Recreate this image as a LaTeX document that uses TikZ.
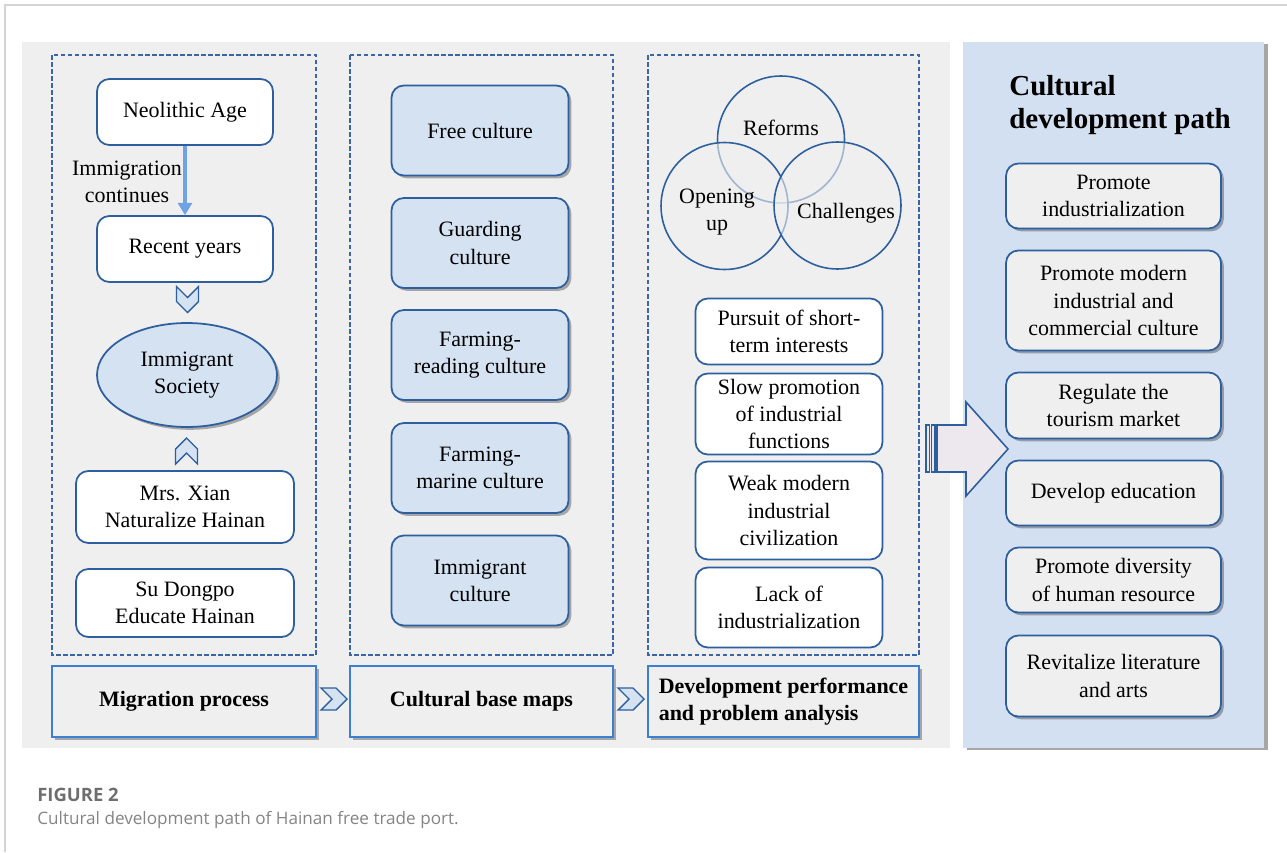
\documentclass[tikz,border=0pt]{standalone}
\usepackage{fontspec}
\setmainfont{Liberation Serif}
\newfontfamily\capfont{Open Sans}
\usepackage{xcolor}
\usetikzlibrary{shadows,arrows.meta,shapes.geometric}
\definecolor{panelgray}{HTML}{EFEFEF}
\definecolor{framegray}{HTML}{D4D4D4}
\definecolor{boxblue}{HTML}{2D5F9F}
\definecolor{labelblue}{HTML}{3B7FD2}
\definecolor{dashblue}{HTML}{3A66A8}
\definecolor{cultureblue}{HTML}{D5E2F2}
\definecolor{pathblue}{HTML}{D3E0F1}
\definecolor{flowblue}{HTML}{6FA3E3}
\definecolor{arrowfill}{HTML}{ECE8EE}
\definecolor{capgray}{HTML}{6E6E6E}
\tikzset{
  soft shadow/.style={drop shadow={shadow xshift=1.6pt, shadow yshift=-1.6pt, opacity=0.3, fill=black}},
  dashbox/.style={draw=dashblue, line width=0.8pt, dash pattern=on 2.6pt off 1.4pt},
  txt/.style={font=\fontsize{12.5}{15.5}\selectfont, align=center, inner sep=0pt},
  stagebox/.style={txt, draw=boxblue, line width=1pt, rounded corners=7pt, fill=white},
  culturebox/.style={stagebox, fill=cultureblue, soft shadow, minimum width=3.54cm, minimum height=1.8cm},
  problembox/.style={stagebox, minimum width=3.74cm},
  pathbox/.style={stagebox, fill=panelgray, soft shadow, minimum width=4.3cm},
  labelbox/.style={font=\fontsize{12.5}{15.5}\selectfont\bfseries, draw=labelblue, line width=1pt,
    fill=panelgray, soft shadow, minimum height=1.42cm, align=center, inner sep=0pt},
  venn/.style={circle, draw=boxblue, line width=0.9pt, fill=panelgray, fill opacity=0.6,
    minimum size=2.54cm, inner sep=0pt},
  flow/.style={draw=flowblue, line width=1.9pt, -{Triangle[length=7pt,width=8pt]}},
  bigarrow/.style={draw=boxblue, line width=0.9pt, fill=arrowfill},
  chevron/.pic={
    \draw[boxblue, line width=0.8pt, fill=cultureblue]
      (-13,-11) -- (2,-11) -- (13,0) -- (2,11) -- (-13,11) -- (-2,0) -- cycle;
  },
}
\begin{document}
\begin{tikzpicture}[x=0.02cm, y=-0.02cm]
  \useasboundingbox (0,0) rectangle (1287,852);
  \draw[framegray, line width=1pt] (5,852) -- (5,5) -- (1287,5);
  \fill[panelgray] (22,42) rectangle (950,748);
  \path[fill=pathblue, drop shadow={shadow xshift=2.5pt, shadow yshift=-1pt, opacity=0.35, fill=black}]
    (963,42) rectangle (1264,748);
  \draw[dashbox] (52,55) rectangle (316,655);
  \draw[dashbox] (350,55) rectangle (613,655);
  \draw[dashbox] (648,55) rectangle (919,655);

  \node[stagebox, minimum width=3.52cm, minimum height=1.32cm] (neolithic) at (185,112) {Neolithic Age};
  \node[stagebox, minimum width=3.52cm, minimum height=1.32cm] (recent) at (185,249) {Recent years};
  \draw[flow] (neolithic) -- (recent);
  \node[txt] (continues) at (127,182) {Immigration\\continues};
  \pic[rotate=-90] at (187.5,299.5) {chevron};
  \node[txt, ellipse, draw=boxblue, line width=1pt, fill=cultureblue, soft shadow,
    minimum width=3.6cm, minimum height=2.08cm] (society) at (187,375) {Immigrant\\Society};
  \pic[rotate=90] at (186.5,451) {chevron};
  \node[stagebox, minimum width=4.36cm, minimum height=1.44cm] (xian) at (185,507) {Mrs. Xian\\Naturalize Hainan};
  \node[stagebox, minimum width=4.36cm, minimum height=1.36cm] (su) at (185,603) {Su Dongpo\\Educate Hainan};

  \node[culturebox] (free) at (480,130.5) {Free culture};
  \node[culturebox] (guarding) at (480,243) {Guarding\\culture};
  \node[culturebox] (reading) at (480,355) {Farming-\\reading culture};
  \node[culturebox] (marine) at (480,468) {Farming-\\marine culture};
  \node[culturebox] (immigrant) at (480,580.5) {Immigrant\\culture};

  \node[venn] (reforms) at (781,139.5) {};
  \node[venn] (opening) at (724.5,206) {};
  \node[venn] (challenges) at (837.5,205.5) {};
  \node[txt] (reformstext) at (781,128) {Reforms};
  \node[txt] (openingtext) at (717,212) {Opening\\up};
  \node[txt] (challengestext) at (846,213) {Challenges};

  \node[problembox, minimum height=1.32cm] (shortterm) at (789,331.5) {Pursuit of short-\\term interests};
  \node[problembox, minimum height=1.62cm] (slow) at (789,414) {Slow promotion\\of industrial\\functions};
  \node[problembox, minimum height=1.96cm] (weak) at (789,510.5) {Weak modern\\industrial\\civilization};
  \node[problembox, minimum height=1.6cm] (lack) at (789,607.5) {Lack of\\industrialization};

  \node[labelbox, minimum width=5.28cm] (migration) at (184,701.5) {Migration process};
  \node[labelbox, minimum width=5.26cm] (basemaps) at (481.5,701.5) {Cultural base maps};
  \node[labelbox, align=left, minimum width=5.42cm] (analysis) at (783.5,701.5)
    {Development performance\\and problem analysis};
  \pic at (334,699) {chevron};
  \pic at (631,699) {chevron};

  \draw[bigarrow] (926,425) rectangle (929.5,472);
  \draw[bigarrow] (931.5,425) rectangle (935,472);
  \draw[bigarrow] (937,425) -- (966,425) -- (966,402) -- (1008,449) -- (966,496) -- (966,472) -- (937,472) -- cycle;

  \node[anchor=north west, font=\fontsize{16.5}{19}\selectfont\bfseries, align=left, inner sep=0pt]
    (pathtitle) at (1009,75) {Cultural\\development path};
  \node[pathbox, minimum height=1.3cm] (industrialize) at (1113.5,196) {Promote\\industrialization};
  \node[pathbox, minimum height=2.0cm] (commerce) at (1113.5,300.5) {Promote modern\\industrial and\\commercial culture};
  \node[pathbox, minimum height=1.32cm] (tourism) at (1113.5,405.5) {Regulate the\\tourism market};
  \node[pathbox, minimum height=1.3cm] (education) at (1113.5,493) {Develop education};
  \node[pathbox, minimum height=1.3cm] (diversity) at (1113.5,580) {Promote diversity\\of human resource};
  \node[pathbox, minimum height=1.62cm] (literature) at (1113.5,676) {Revitalize literature\\and arts};

  \node[anchor=base west, inner sep=0pt, font=\capfont\bfseries\fontsize{10.5}{12}\selectfont, text=capgray]
    (figlabel) at (37,801) {FIGURE 2};
  \node[anchor=base west, inner sep=0pt, font=\capfont\fontsize{9.75}{12}\selectfont, text=capgray!85]
    (figcaption) at (37,824) {Cultural development path of Hainan free trade port.};
\end{tikzpicture}
\end{document}
